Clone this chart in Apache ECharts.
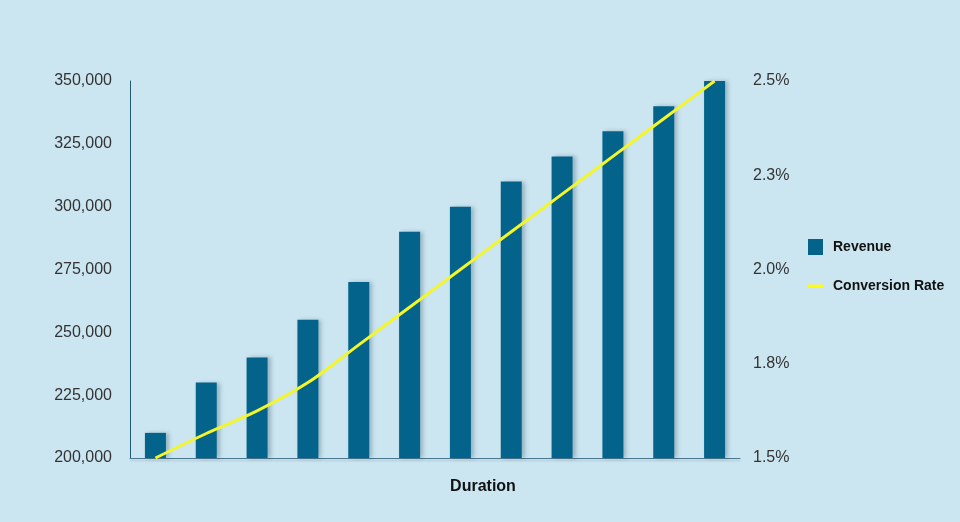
<!DOCTYPE html>
<html>
<head>
<meta charset="utf-8">
<script src="https://cdn.jsdelivr.net/npm/echarts@6/dist/echarts.min.js"></script>
<style>html,body{margin:0;padding:0;background:#cbe6f1;}#c{width:960px;height:522px;}</style>
</head>
<body>
<div id="c"></div>
<script>
const categories = ['1','2','3','4','5','6','7','8','9','10','11','12'];
const revenue = [210000, 230000, 240000, 255000, 270000, 290000, 300000, 310000, 320000, 330000, 340000, 350000];
const conversionRate = [1.5, 1.565, 1.625, 1.70, 1.80, 1.90, 2.0, 2.1, 2.2, 2.3, 2.4, 2.5];

const chart = echarts.init(document.getElementById('c'));
chart.setOption({
  backgroundColor: '#cbe6f1',
  textStyle: { fontFamily: 'Liberation Sans, Arial, sans-serif' },
  grid: { left: 130, right: 220, top: 81, bottom: 64 },
  legend: {
    orient: 'vertical', left: 803, top: 234, itemGap: 24,
    itemWidth: 15, itemHeight: 16,
    textStyle: { fontWeight: 'bold', fontSize: 14, color: '#111', padding: [0, 0, 0, 5] },
    data: [
      { name: 'Revenue', icon: 'rect' },
      { name: 'Conversion Rate', icon: 'path://M0,7 L16,7 L16,10 L0,10 Z', itemStyle: { color: '#ffff00' } }
    ]
  },
  xAxis: {
    type: 'category', data: categories,
    name: 'Duration', nameLocation: 'middle', nameGap: 21,
    nameTextStyle: { fontWeight: 'bold', fontSize: 16, color: '#111', padding: [0, 0, 0, 96] },
    axisLabel: { show: false }, axisTick: { show: false },
    axisLine: { lineStyle: { color: '#4a7890', width: 1, shadowColor: 'rgba(0,0,0,0.15)', shadowOffsetY: 2, shadowBlur: 2 } }
  },
  yAxis: [
    {
      type: 'value', min: 200000, max: 350000, interval: 25000,
      splitLine: { show: false },
      axisLine: { show: true, lineStyle: { color: '#1f5a78' } },
      axisTick: { show: false },
      axisLabel: { fontSize: 16, color: '#333', margin: 18,
        formatter: v => v.toLocaleString('en-US') }
    },
    {
      type: 'value', min: 1.5, max: 2.5, interval: 0.25,
      splitLine: { show: false },
      axisLine: { show: false }, axisTick: { show: false },
      axisLabel: { fontSize: 16, color: '#333', margin: 13,
        formatter: v => v.toFixed(1) + '%' }
    }
  ],
  series: [
    {
      name: 'Revenue', type: 'bar', data: revenue, barWidth: 21,
      itemStyle: { color: '#04638b', shadowColor: 'rgba(0,40,60,0.25)', shadowOffsetX: 3, shadowBlur: 4 }
    },
    {
      name: 'Conversion Rate', type: 'line', yAxisIndex: 1, data: conversionRate,
      smooth: 0.3, symbol: 'none',
      lineStyle: { color: '#f4f52a', width: 3 },
      itemStyle: { color: '#ffff00' }
    }
  ]
});
</script>
</body>
</html>
